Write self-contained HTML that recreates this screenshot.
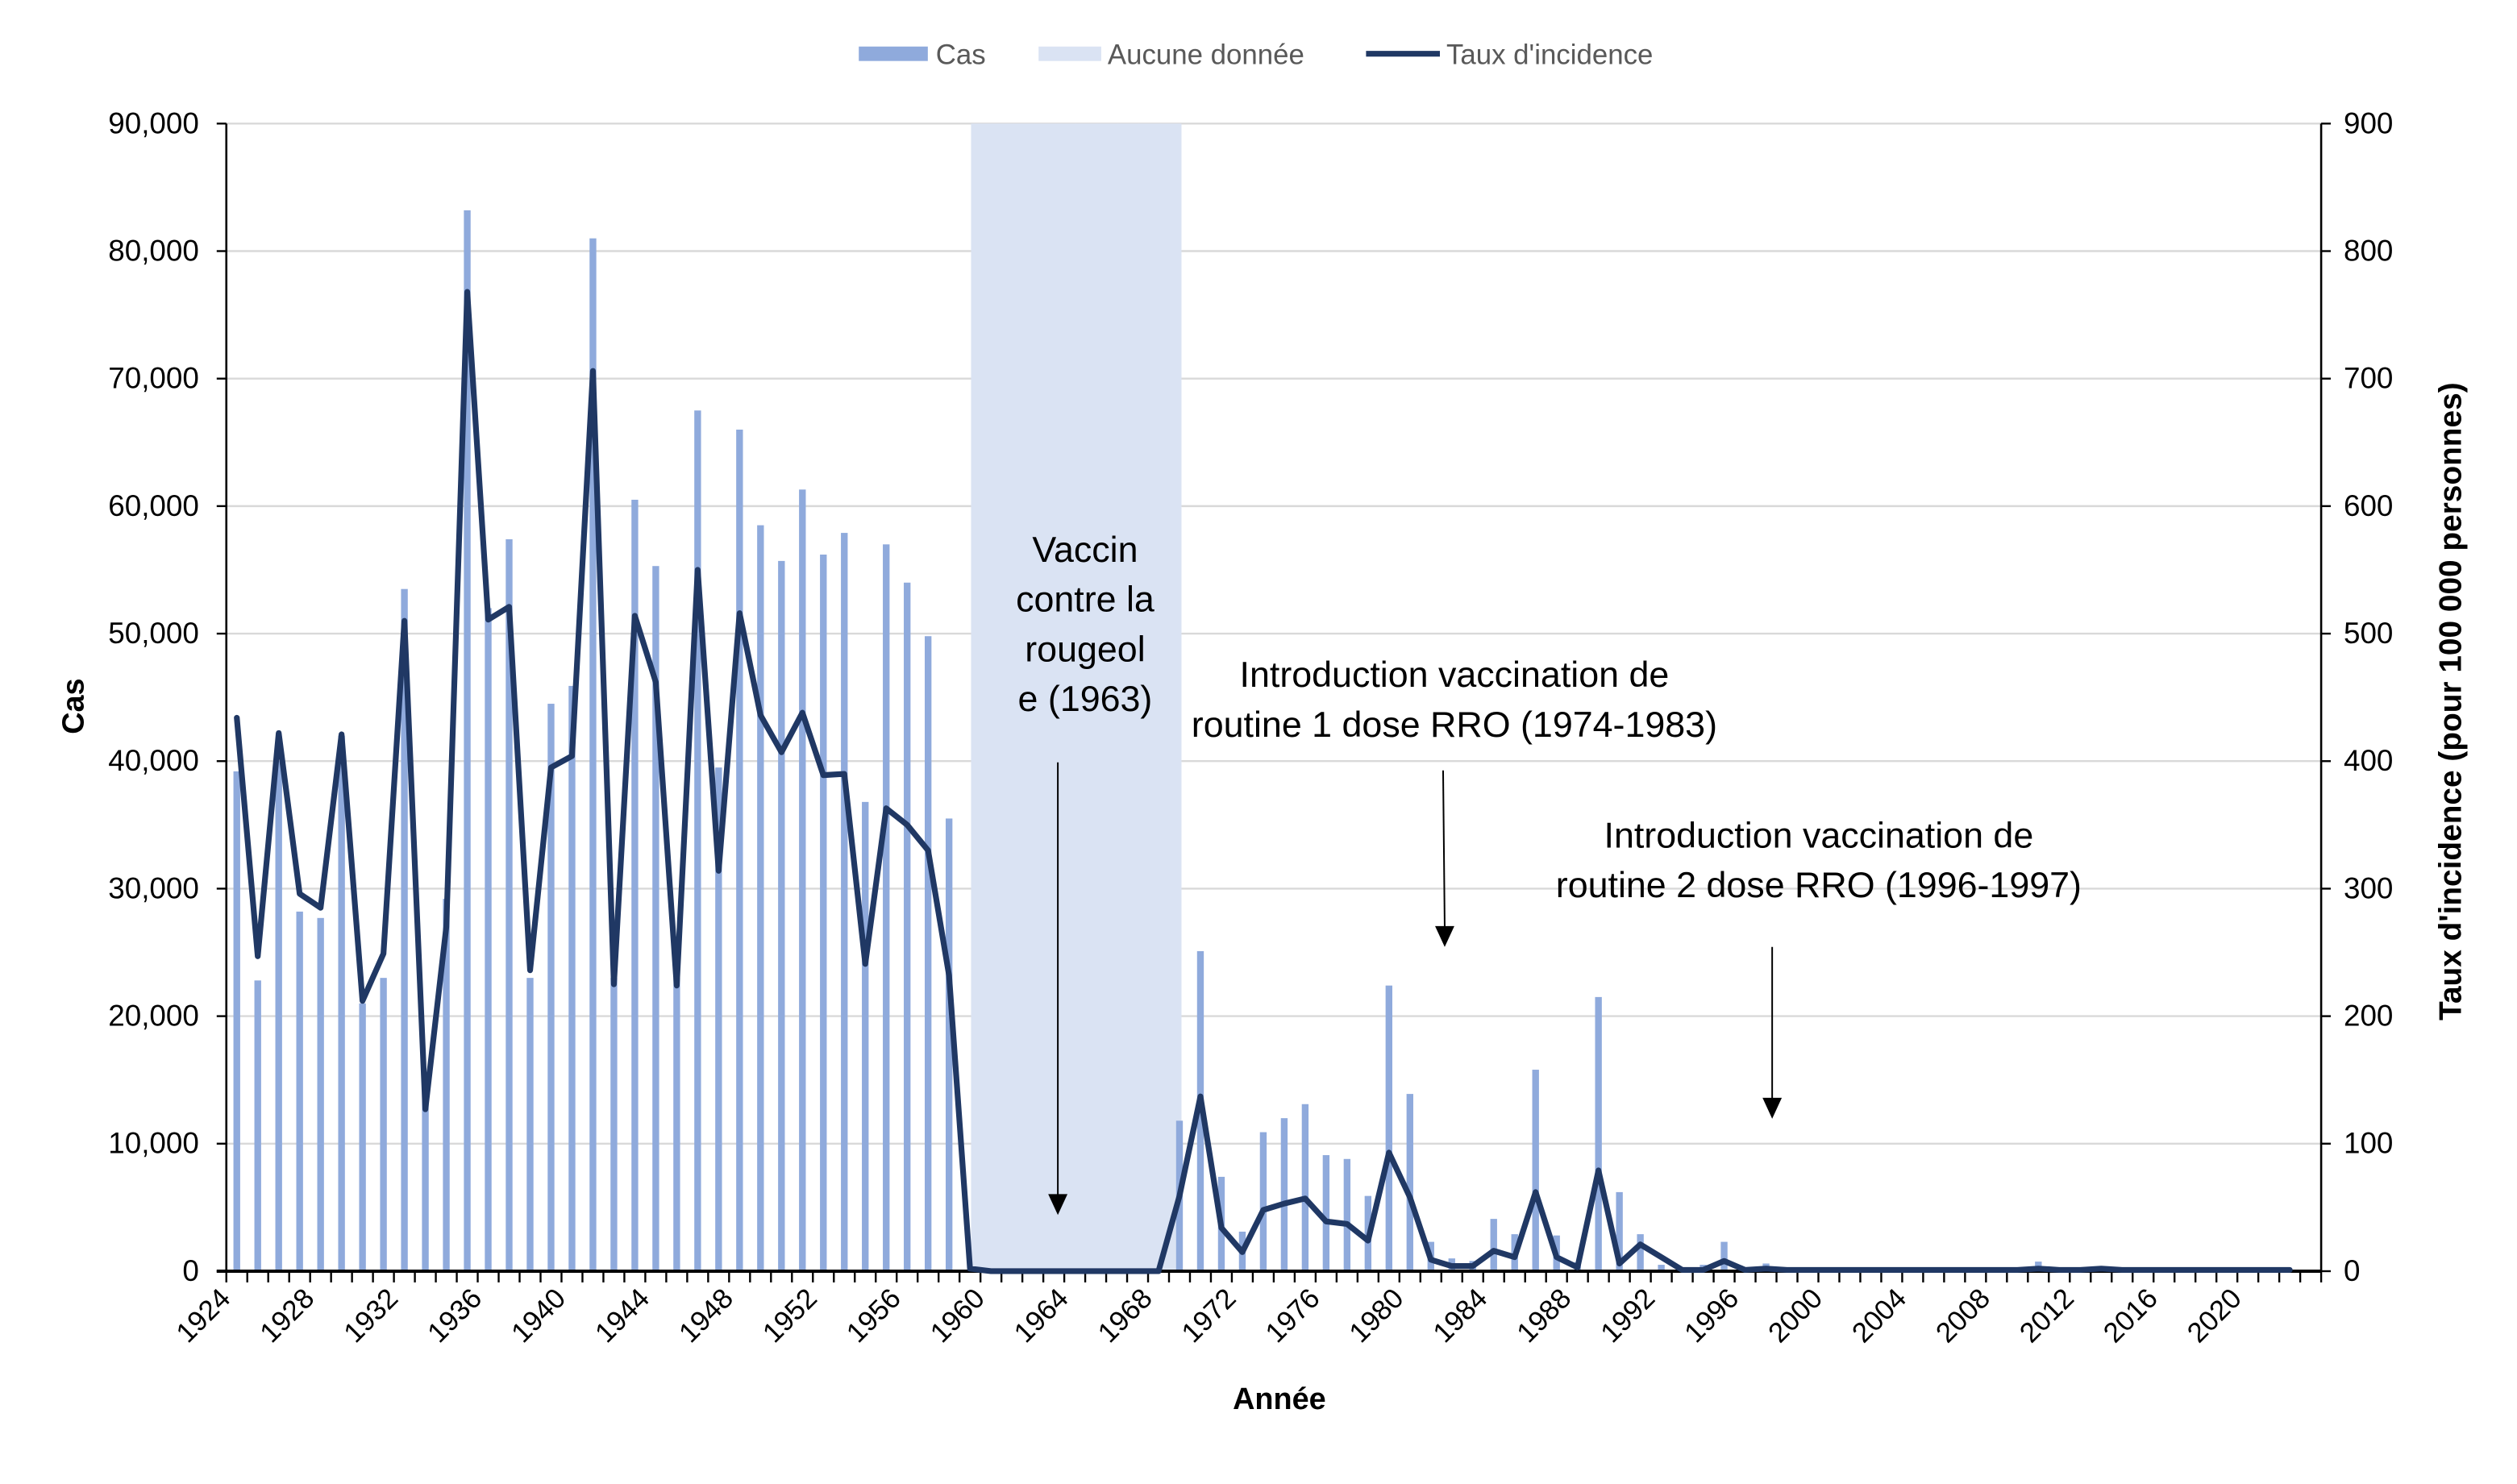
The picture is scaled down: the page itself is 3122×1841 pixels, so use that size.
<!DOCTYPE html>
<html><head><meta charset="utf-8"><style>
html,body{margin:0;padding:0;background:#fff;}
svg{display:block;font-family:"Liberation Sans",Calibri,sans-serif;}
</style></head><body>
<svg id="chart" width="3122" height="1841" viewBox="0 0 1568 924.6" preserveAspectRatio="none" xmlns="http://www.w3.org/2000/svg">
<g id="grid"></g>
<g id="nodata"></g>
<g id="bars"></g>
<g id="axes"></g>
<path id="rateline" fill="none" stroke="#203864" stroke-width="3.6" stroke-linejoin="round" stroke-linecap="round"/>
<g id="legend">
 <rect x="535" y="29" width="43" height="9" fill="#8faadc"/>
 <text x="583" y="40" font-size="17.5" fill="#595959">Cas</text>
 <rect x="647" y="29" width="39" height="9" fill="#dae3f3"/>
 <text x="690" y="40" font-size="17.5" fill="#595959">Aucune donnée</text>
 <line x1="851" y1="33.5" x2="897" y2="33.5" stroke="#203864" stroke-width="3.6"/>
 <text x="901" y="40" font-size="17.5" fill="#595959">Taux d'incidence</text>
</g>
<text transform="translate(52,440) rotate(-90)" text-anchor="middle" font-size="19" font-weight="bold">Cas</text>
<text transform="translate(1533,437) rotate(-90)" text-anchor="middle" font-size="19.5" font-weight="bold">Taux d'incidence (pour 100 000 personnes)</text>
<text x="797" y="878" text-anchor="middle" font-size="19" font-weight="bold">Année</text>
<g font-size="22.5" text-anchor="middle">
 <text x="676" y="350">Vaccin</text><text x="676" y="381">contre la</text><text x="676" y="412">rougeol</text><text x="676" y="443">e (1963)</text>
 <line x1="659" y1="475" x2="659" y2="745" stroke="#000" stroke-width="1"/>
 <polygon points="653,744 665,744 659,757" fill="#000"/>
</g>
<g font-size="22.5" text-anchor="middle">
 <text x="906" y="428">Introduction vaccination de</text><text x="906" y="459">routine 1 dose RRO (1974-1983)</text>
 <line x1="899" y1="480" x2="900" y2="578" stroke="#000" stroke-width="1"/>
 <polygon points="894,577 906,577 900,590" fill="#000"/>
</g>
<g font-size="22.5" text-anchor="middle">
 <text x="1133" y="528">Introduction vaccination de</text><text x="1133" y="559">routine 2 dose RRO (1996-1997)</text>
 <line x1="1104" y1="590" x2="1104" y2="685" stroke="#000" stroke-width="1"/>
 <polygon points="1098,684 1110,684 1104,697" fill="#000"/>
</g>
</svg>
<script>
const years = [];
for (let y = 1924; y <= 2023; y++) years.push(y);
const cases = [39200,22800,40000,28200,27700,42000,21000,23000,53500,14000,29200,83200,52000,57400,23000,44500,45900,81000,23000,60500,55300,23000,67500,39500,66000,58500,55700,61300,56200,57900,36800,57000,54000,49800,35500,0,
 0,0,0,0,0,0,0,0,0,
 11800,25100,7400,3100,10900,12000,13100,9100,8800,5900,22400,13900,2300,1000,800,4100,2900,15800,2800,700,21500,6200,2900,500,200,500,2300,
 300,600,150,100,200,100,150,100,100,100,150,200,100,200,750,150,200,400,150,100,150,200,150,100,100,100,100,0];
const rates = [434,247,422,296,285,421,212,249,510,127,270,768,511,521,236,395,404,706,225,514,462,224,550,314,516,436,407,438,389,390,241,363,350,330,232,2,
 0,0,0,0,0,0,0,0,0,
 59,137,34,15,48,53,57,39,37,24,93,58,9,4,4,16,11,62,11,3,79,6,21,11,1,1,8,
 1,2,1,1,1,1,1,1,1,1,1,1,1,1,2,1,1,2,1,1,1,1,1,1,1,1,1];
const noDataYears = [1959,1960,1961,1962,1963,1964,1965,1966,1967,1968];
const leftTicks = [0,10000,20000,30000,40000,50000,60000,70000,80000,90000];
const rightTicks = [0,100,200,300,400,500,600,700,800,900];

const NS = "http://www.w3.org/2000/svg";
const L = 141, R = 1446, T = 77, B = 792;
const n = years.length, bw = (R - L) / n;
const xc = i => L + bw * (i + 0.5);
const yC = v => B - (v / 90000) * (B - T);
const yR = v => B - (v / 900) * (B - T);
function mk(tag, parent, attrs) { const e = document.createElementNS(NS, tag); for (const k in attrs) e.setAttribute(k, attrs[k]); parent.appendChild(e); return e; }

const grid = document.getElementById('grid'), axes = document.getElementById('axes');
leftTicks.forEach((t, i) => {
  if (t > 0) { const g = mk('line', grid, {x1: L, x2: R, y1: yC(t), y2: yC(t), stroke: '#d9d9d9', 'stroke-width': 1.2});
    
     }
  const tx = mk('text', axes, {x: L - 17, y: yC(t) + 6, 'text-anchor': 'end', 'font-size': 18.5});
  tx.textContent = t.toLocaleString('en-US');
  
  
  mk('line', axes, {x1: L - 6, x2: L, y1: yC(t), y2: yC(t), stroke: '#000', 'stroke-width': 1.2});
});
rightTicks.forEach(t => {
  const tx = mk('text', axes, {x: R + 14, y: yR(t) + 6, 'font-size': 18.5});
  tx.textContent = t;
  
  
  mk('line', axes, {x1: R, x2: R + 6, y1: yR(t), y2: yR(t), stroke: '#000', 'stroke-width': 1.2});
});
mk('line', axes, {x1: L, x2: L, y1: T, y2: B, stroke: '#000', 'stroke-width': 1.3});
mk('line', axes, {x1: R, x2: R, y1: T, y2: B, stroke: '#000', 'stroke-width': 1.3});
mk('line', axes, {x1: L - 6, x2: R, y1: B, y2: B, stroke: '#000', 'stroke-width': 2});
for (let i = 0; i <= n; i++) mk('line', axes, {x1: L + bw * i, x2: L + bw * i, y1: B, y2: B + 7, stroke: '#000', 'stroke-width': 1.2});
years.forEach((y, i) => {
  if ((y - 1924) % 4 === 0 && y <= 2020) {
    const x = xc(i) - 3, yy = 810;
    const tx = mk('text', axes, {x: x, y: yy, 'text-anchor': 'end', 'font-size': 17.5, transform: `rotate(-45 ${x} ${yy})`});
    tx.textContent = y;
    
    
  }
});

const nd = document.getElementById('nodata');
noDataYears.forEach(y => {
  const i = years.indexOf(y);
  const r = mk('rect', nd, {x: L + bw * (i + 0.55), y: T, width: bw + 0.6, height: B - T, fill: '#dae3f3'});
  
  
});

const bars = document.getElementById('bars');
cases.forEach((v, i) => {
  if (v <= 0) return;
  const r = mk('rect', bars, {x: xc(i) - 2.1, y: yC(v), width: 4.2, height: B - yC(v), fill: '#8faadc'});
  
  
});

document.getElementById('rateline').setAttribute('d', rates.map((v, i) => (i ? 'L' : 'M') + xc(i).toFixed(2) + ' ' + yR(v).toFixed(2)).join(' '));
</script>
</body></html>
